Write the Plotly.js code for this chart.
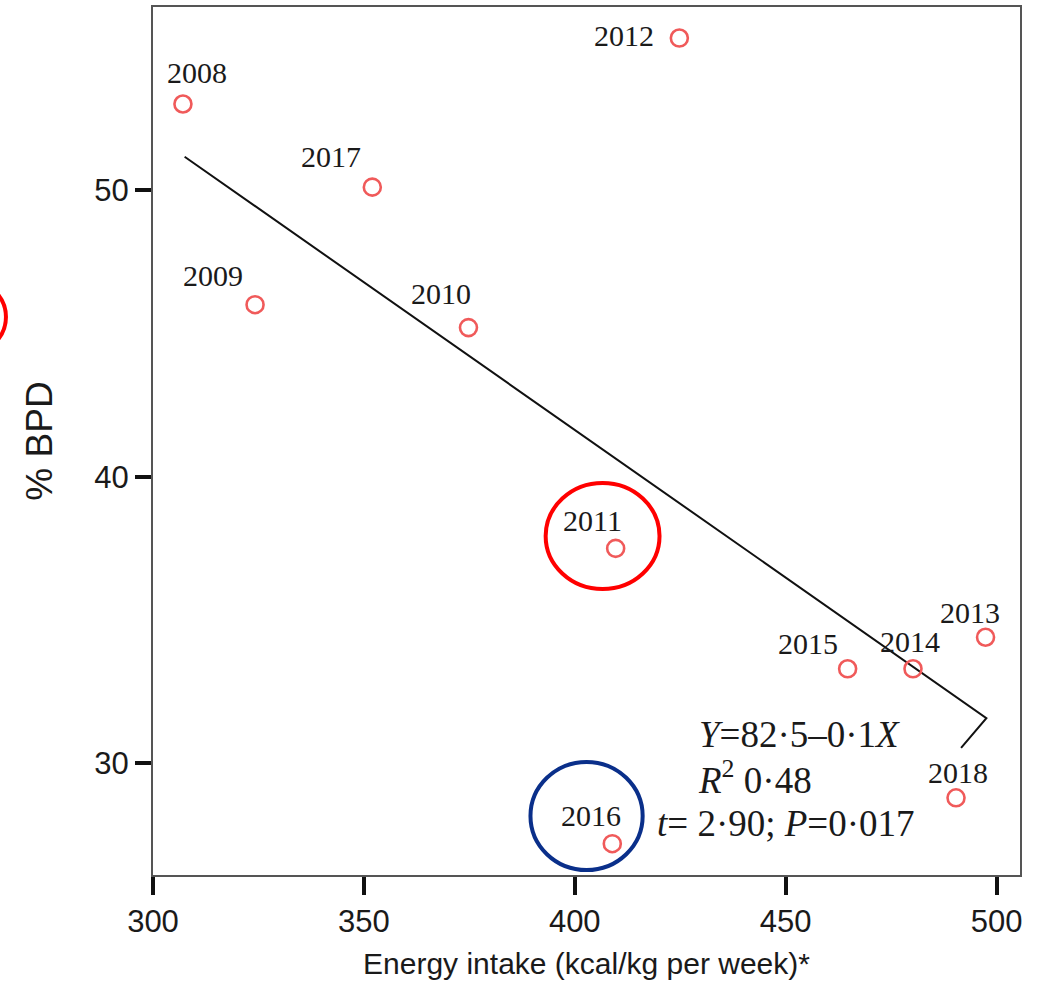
<!DOCTYPE html>
<html>
<head>
<meta charset="utf-8">
<script src="https://cdn.plot.ly/plotly-3.0.1.min.js"></script>
<style>
  html, body { margin: 0; padding: 0; background: #ffffff; }
  #chart { width: 1037px; height: 997px; }
</style>
</head>
<body>
<div id="chart"></div>
<script>
// ---- Data ----
const years = ['2008', '2009', '2010', '2011', '2012', '2013', '2014', '2015', '2016', '2017', '2018'];
const energyIntake = [307.1, 324.2, 374.8, 409.7, 424.8, 497.4, 480.2, 464.7, 408.9, 352.0, 490.4];
const bpdPercent = [53.0, 46.0, 45.2, 37.5, 55.3, 34.4, 33.3, 33.3, 27.2, 50.1, 28.8];

// Regression line (as drawn, including the small pointer stroke at its end)
const fitX = [307.5, 497.6, 491.6];
const fitY = [51.16, 31.58, 30.54];

// Statistics text
const statLines = [
  '<i>Y</i>=82·5–0·1<i>X</i>',
  '<i>R</i><sup>2</sup> 0·48',
  '<i>t</i>= 2·90; <i>P</i>=0·017'
];
const statX = [429.1, 428.8, 419.0];
const statY = [31.0, 29.5, 27.9];

const xTicks = [300, 350, 400, 450, 500];
const yTicks = [30, 40, 50];

// Label offsets (pixels) for the year labels — styling only
const labelShift = {
  '2008': [14, 31], '2009': [-42, 29], '2010': [-27, 34], '2011': [-23, 28],
  '2012': [-55, 3], '2013': [-16, 25], '2014': [-3, 27], '2015': [-40, 25],
  '2016': [-21, 28], '2017': [-41, 31], '2018': [2, 25]
};

const serif = '"Liberation Serif", "Times New Roman", serif';
const sans = '"Liberation Sans", Arial, Helvetica, sans-serif';

const traces = [
  {
    type: 'scatter', mode: 'lines', x: fitX, y: fitY,
    line: { color: '#111111', width: 2 }, hoverinfo: 'skip', showlegend: false
  },
  {
    type: 'scatter', mode: 'markers', x: energyIntake, y: bpdPercent, text: years,
    marker: { symbol: 'circle-open', size: 17, color: 'rgb(240,90,90)', line: { width: 2.6 } },
    showlegend: false
  }
];

const annotations = years.map((yr, i) => ({
  x: energyIntake[i], y: bpdPercent[i], xref: 'x', yref: 'y',
  text: yr, showarrow: false, xanchor: 'center', yanchor: 'middle',
  xshift: labelShift[yr][0], yshift: labelShift[yr][1],
  font: { family: serif, size: 30, color: '#1a1a1a' }
}));

statLines.forEach((t, i) => {
  annotations.push({
    x: statX[i], y: statY[i], xref: 'x', yref: 'y', text: t, showarrow: false,
    xanchor: 'left', yanchor: 'middle',
    font: { family: serif, size: 37, color: '#1a1a1a' }
  });
});

const shapes = [
  // red highlight around 2011
  { type: 'circle', xref: 'x', yref: 'y', x0: 393.1, x1: 420.1, y0: 36.08, y1: 39.78,
    line: { color: '#ff0000', width: 4 }, layer: 'above' },
  // blue highlight around 2016
  { type: 'circle', xref: 'x', yref: 'y', x0: 389.5, x1: 416.1, y0: 26.28, y1: 30.05,
    line: { color: '#0a2f8a', width: 4 }, layer: 'above' },
  // partial red circle at left edge of the image
  { type: 'circle', xref: 'paper', yref: 'paper', x0: -0.2526, x1: -0.1696, y0: 0.6014, y1: 0.6843,
    line: { color: '#ff0000', width: 4 }, layer: 'above' }
];

const layout = {
  width: 1037, height: 997,
  margin: { l: 153, r: 17, t: 7, b: 122, pad: 0 },
  paper_bgcolor: '#ffffff', plot_bgcolor: '#ffffff',
  showlegend: false,
  xaxis: {
    range: [300, 505.57], tickvals: xTicks, ticktext: xTicks.map(String),
    ticks: 'outside', ticklen: 18, tickwidth: 4, tickcolor: '#111111',
    showline: true, linecolor: '#555555', linewidth: 2, mirror: true,
    showgrid: false, zeroline: false,
    tickfont: { family: sans, size: 31, color: '#1a1a1a' },
    title: { text: 'Energy intake (kcal/kg per week)*', font: { family: sans, size: 30, color: '#1a1a1a' }, standoff: 15 }
  },
  yaxis: {
    range: [26.108, 56.383], tickvals: yTicks, ticktext: yTicks.map(String),
    ticks: 'outside', ticklen: 16, tickwidth: 4, tickcolor: '#111111',
    showline: true, linecolor: '#555555', linewidth: 2, mirror: true,
    showgrid: false, zeroline: false,
    tickfont: { family: sans, size: 31, color: '#1a1a1a' },
    title: { text: '% BPD', font: { family: sans, size: 37, color: '#1a1a1a' }, standoff: 30 }
  },
  annotations: annotations,
  shapes: shapes
};

Plotly.newPlot('chart', traces, layout, { displayModeBar: false, staticPlot: true });
</script>
</body>
</html>
